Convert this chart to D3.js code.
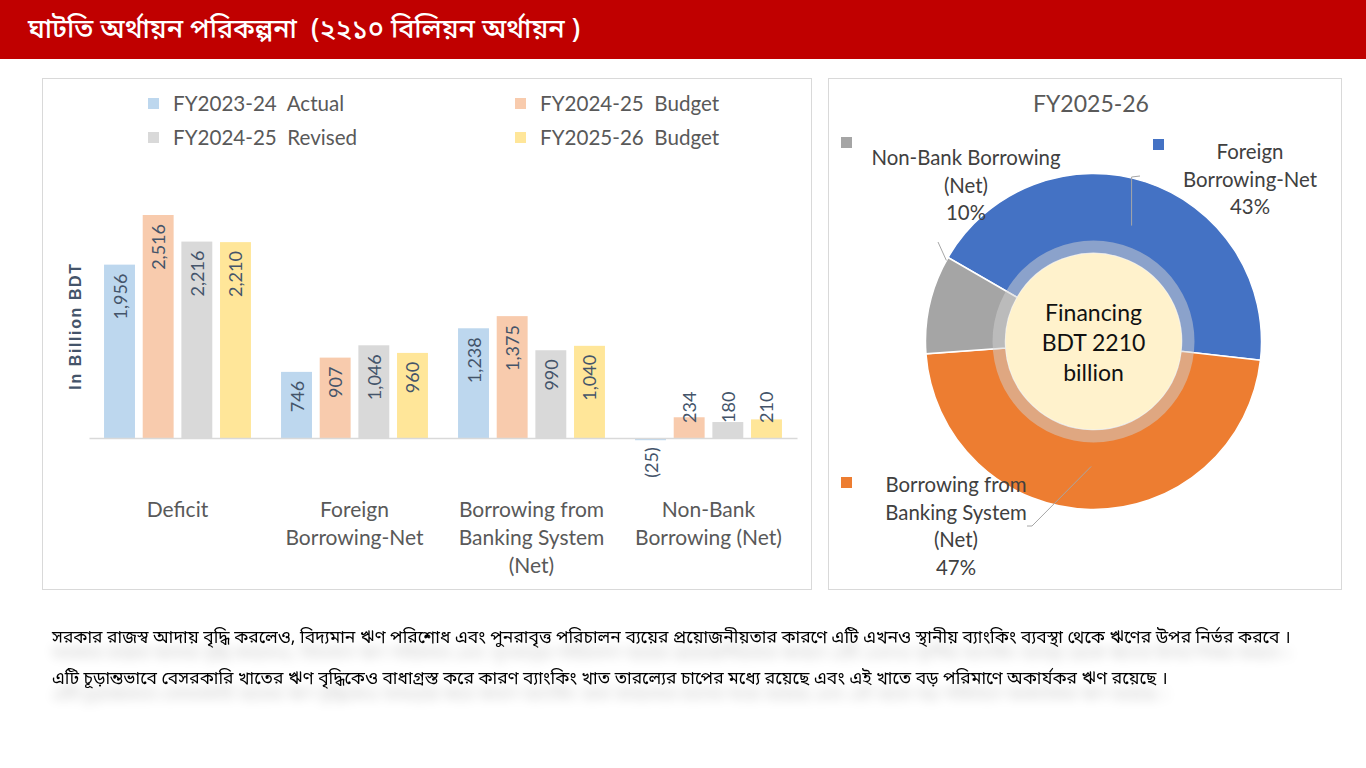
<!DOCTYPE html>
<html>
<head>
<meta charset="utf-8">
<script src="https://cdn.jsdelivr.net/npm/d3@7"></script>
<style>
  html, body { margin: 0; padding: 0; background: #fff; }
  svg { display: block; }
  .bn { font-family: "Noto Sans Bengali", "Noto Serif Bengali", "Lohit Bengali", "Mukti", "FreeSans", "Noto Sans", sans-serif; }
  .lat { font-family: Lato, "Noto Sans", sans-serif; }
</style>
</head>
<body>
<svg id="chart" width="1366" height="768"></svg>
<script>
// ---------- DATA ----------
const titleText = "ঘাটতি অর্থায়ন পরিকল্পনা  (২২১০ বিলিয়ন অর্থায়ন )";
const categories = ["Deficit", "Foreign Borrowing-Net", "Borrowing from Banking System (Net)", "Non-Bank Borrowing (Net)"];
const categoryLines = [["Deficit"], ["Foreign", "Borrowing-Net"], ["Borrowing from", "Banking System", "(Net)"], ["Non-Bank", "Borrowing (Net)"]];
const seriesNames = ["FY2023-24  Actual", "FY2024-25  Budget", "FY2024-25  Revised", "FY2025-26  Budget"];
const actual2324 = [1956, 746, 1238, -25];
const budget2425 = [2516, 907, 1375, 234];
const revised2425 = [2216, 1046, 990, 180];
const budget2526 = [2210, 960, 1040, 210];
const seriesValues = [actual2324, budget2425, revised2425, budget2526];
const seriesColors = ["#BDD7EE", "#F8CBAD", "#D9D9D9", "#FFE699"];
const yAxisTitle = "In Billion BDT";

const pieTitle = "FY2025-26";
const pieLabels = [["Foreign", "Borrowing-Net"], ["Borrowing from", "Banking System", "(Net)"], ["Non-Bank Borrowing", "(Net)"]];
const pieValues = [960, 1040, 210];
const pieColors = ["#4472C4", "#ED7D31", "#A5A5A5"];
const centerText = ["Financing", "BDT 2210", "billion"];

const noteLines = [
  "সরকার রাজস্ব আদায় বৃদ্ধি করলেও, বিদ্যমান ঋণ পরিশোধ এবং পুনরাবৃত্ত পরিচালন ব্যয়ের প্রয়োজনীয়তার কারণে এটি এখনও স্থানীয় ব্যাংকিং ব্যবস্থা থেকে ঋণের উপর নির্ভর করবে ।",
  "এটি চূড়ান্তভাবে বেসরকারি খাতের ঋণ বৃদ্ধিকেও বাধাগ্রস্ত করে কারণ ব্যাংকিং খাত তারল্যের চাপের মধ্যে রয়েছে এবং এই খাতে বড় পরিমাণে অকার্যকর ঋণ রয়েছে ।"
];

// ---------- SETUP ----------
const svg = d3.select("#chart");
const defs = svg.append("defs");
const f = defs.append("filter").attr("id", "shadow").attr("x", "-5%").attr("y", "-80%").attr("width", "110%").attr("height", "300%");
f.append("feGaussianBlur").attr("in", "SourceAlpha").attr("stdDeviation", 6).attr("result", "b");
f.append("feOffset").attr("in", "b").attr("dy", 16).attr("result", "o");
f.append("feComponentTransfer").attr("in", "o").attr("result", "o2")
  .append("feFuncA").attr("type", "linear").attr("slope", 0.22);
const fm = f.append("feMerge");
fm.append("feMergeNode").attr("in", "o2");
fm.append("feMergeNode").attr("in", "SourceGraphic");

// Title bar
svg.append("rect").attr("x", 0).attr("y", 0).attr("width", 1366).attr("height", 59).attr("fill", "#C00000");
svg.append("text").attr("class", "bn").attr("x", 28).attr("y", 38)
  .attr("fill", "#fff").attr("font-size", 27).attr("font-weight", 500)
  .style("white-space", "pre").text(titleText);

// Panels
svg.append("rect").attr("x", 42.5).attr("y", 78.5).attr("width", 769).attr("height", 511)
  .attr("fill", "#fff").attr("stroke", "#D9D9D9");
svg.append("rect").attr("x", 828.5).attr("y", 78.5).attr("width", 513).attr("height", 511)
  .attr("fill", "#fff").attr("stroke", "#D9D9D9");

// ---------- BAR CHART ----------
const x0 = d3.scaleBand().domain(categories).range([89, 797]).paddingInner(0.17).paddingOuter(0.085);
const x1 = d3.scaleBand().domain(seriesNames).range([0, x0.bandwidth()]).paddingInner(0.2);
const y = d3.scaleLinear().domain([0, 2516]).range([438, 215]);

const bars = svg.append("g");
seriesNames.forEach((s, si) => {
  const g = bars.append("g");
  g.selectAll("rect").data(seriesValues[si]).join("rect")
    .attr("x", (d, i) => x0(categories[i]) + x1(s))
    .attr("y", d => Math.min(y(d), y(0)))
    .attr("width", x1.bandwidth())
    .attr("height", d => Math.abs(y(d) - y(0)))
    .attr("fill", seriesColors[si]);
});

// Axis
const xAxis = svg.append("g").attr("transform", `translate(0,${y(0)})`)
  .call(d3.axisBottom(x0).tickSize(0).tickFormat(""));
xAxis.select(".domain").attr("stroke", "#D9D9D9").attr("stroke-width", 1.5);
xAxis.selectAll(".tick").each(function(d, i) {
  const t = d3.select(this).append("text").attr("class", "lat")
    .attr("text-anchor", "middle").attr("fill", "#595959").attr("font-size", 21);
  categoryLines[i].forEach((ln, li) => {
    t.append("tspan").attr("x", 0).attr("y", 79 + li * 28).text(ln);
  });
});

// Data labels
const fmt = d => d < 0 ? `(${d3.format(",")(-d)})` : d3.format(",")(d);
seriesNames.forEach((s, si) => {
  seriesValues[si].forEach((v, i) => {
    const cx = x0(categories[i]) + x1(s) + x1.bandwidth() / 2;
    const t = svg.append("text").attr("class", "lat")
      .attr("font-size", 18).attr("fill", "#44546A")
      .attr("text-anchor", "end").attr("dominant-baseline", "central")
      .text(fmt(v));
    const len = t.node().getComputedTextLength();
    let top;
    if (v >= 0) top = Math.min(y(v) + 9, y(0) - 15 - len);
    else top = y(v) + 7;
    t.attr("transform", `translate(${cx},${top}) rotate(-90)`);
  });
});

// Y axis title
svg.append("text").attr("transform", "translate(75,326) rotate(-90)")
  .attr("text-anchor", "middle").attr("dominant-baseline", "central")
  .attr("font-family", "Liberation Sans, Arial, sans-serif").attr("font-weight", "bold")
  .attr("font-size", 16).attr("letter-spacing", 1.6).attr("fill", "#44546A").text(yAxisTitle);

// Legend
const legPos = [[148, 98], [515, 98], [148, 132], [515, 132]];
seriesNames.forEach((s, si) => {
  const [lx, ly] = legPos[si];
  svg.append("rect").attr("x", lx).attr("y", ly).attr("width", 11).attr("height", 11).attr("fill", seriesColors[si]);
  svg.append("text").attr("class", "lat").attr("x", lx + 25).attr("y", ly + 13)
    .attr("font-size", 20.6).attr("fill", "#595959").style("white-space", "pre").text(s);
});

// ---------- DONUT ----------
const cx = 1093.5, cy = 341.5;
const gP = svg.append("g").attr("transform", `translate(${cx},${cy})`);
const start = -Math.PI / 3;
const pie = d3.pie().sort(null).startAngle(start).endAngle(start + 2 * Math.PI);
const arcs = pie(pieValues);
const arc = d3.arc().innerRadius(88).outerRadius(168);
gP.selectAll("path.slice").data(arcs).join("path").attr("class", "slice")
  .attr("d", arc).attr("fill", (d, i) => pieColors[i]).attr("stroke", "#fff").attr("stroke-width", 1.5);
gP.append("path").attr("d", d3.arc().innerRadius(88).outerRadius(101).startAngle(0).endAngle(2 * Math.PI)())
  .attr("fill", "#D2D2D2").attr("fill-opacity", 0.5);
gP.append("circle").attr("r", 88).attr("fill", "#FFF2CC");
centerText.forEach((t, i) => {
  gP.append("text").attr("class", "lat").attr("x", 0).attr("y", (i - 1) * 30)
    .attr("text-anchor", "middle").attr("dominant-baseline", "central")
    .attr("font-size", 23).attr("fill", "#111").text(t);
});

svg.append("text").attr("class", "lat").attr("x", 1091).attr("y", 103)
  .attr("text-anchor", "middle").attr("dominant-baseline", "central")
  .attr("font-size", 23).attr("fill", "#595959").text(pieTitle);

// Pie labels
const total = d3.sum(pieValues);
const pct = d3.format(".0%");
const pieLabelPos = [
  { sq: [1153, 139], cx: 1250, y0: 151 },
  { sq: [841, 477], cx: 956, y0: 484 },
  { sq: [841, 137], cx: 966, y0: 157 }
];
pieValues.forEach((v, i) => {
  const p = pieLabelPos[i];
  svg.append("rect").attr("x", p.sq[0]).attr("y", p.sq[1]).attr("width", 11).attr("height", 11).attr("fill", pieColors[i]);
  const lines = pieLabels[i].concat([pct(v / total)]);
  lines.forEach((ln, li) => {
    svg.append("text").attr("class", "lat").attr("x", p.cx).attr("y", p.y0 + li * 27.5)
      .attr("text-anchor", "middle").attr("dominant-baseline", "central")
      .attr("font-size", 20.4).attr("fill", "#404040").text(ln);
  });
});

// Leader lines
const pt = (a, r) => [cx + r * Math.sin(a), cy - r * Math.cos(a)];
const mid = d => (d.startAngle + d.endAngle) / 2;
const lead = d3.line();
const pF = pt(mid(arcs[0]), 122);
const pB = pt(mid(arcs[1]), 125);
const pN = pt(arcs[2].endAngle - 0.02, 168);
const leaders = [
  [[1140, 176], [pF[0], 177], pF],
  [pB, [1032, 526], [1027, 526]],
  [[938, 242], pN]
];
leaders.forEach(l => svg.append("path").attr("d", lead(l)).attr("fill", "none").attr("stroke", "#A6A6A6").attr("stroke-width", 1));

// ---------- NOTE ----------
noteLines.forEach((ln, i) => {
  svg.append("text").attr("class", "bn").attr("x", 52).attr("y", 643 + i * 41)
    .attr("font-size", 17.5).attr("fill", "#000").attr("filter", "url(#shadow)").text(ln);
});
</script>
</body>
</html>
